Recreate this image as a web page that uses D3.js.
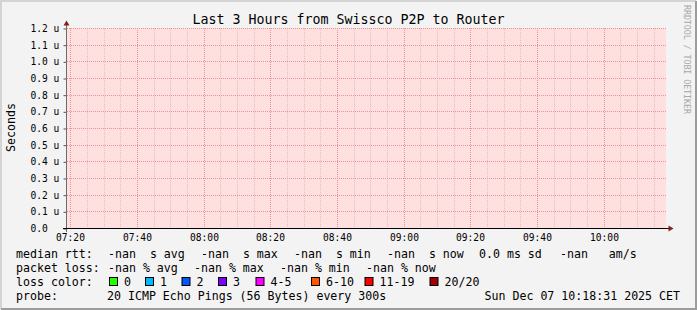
<!DOCTYPE html>
<html>
<head>
<meta charset="utf-8">
<script src="https://cdn.jsdelivr.net/npm/d3@7"></script>
<style>
  html, body { margin: 0; padding: 0; background: #f3f3f3; }
  svg { display: block; font-family: "DejaVu Sans Mono", monospace; }
</style>
</head>
<body>
<div id="graph"></div>
<script>
//----------------------------------------------------------
// chart data
var g_title = "Last 3 Hours from Swissco P2P to Router";
var g_y_label = "Seconds";
var g_watermark = "RRDTOOL / TOBI OETIKER";
var g_time_start = new Date(2025, 11, 7, 7, 18, 53);
var g_time_end = new Date(2025, 11, 7, 10, 18, 53);
var g_y_domain = [0, 1.2e-6];

var g_rtt_names = ["avg", "max", "min", "now"];
var g_rtt_values = ["-nan", "-nan", "-nan", "-nan"];
var g_rtt_sd = "0.0";
var g_rtt_am = "-nan";
var g_loss_names = ["avg", "max", "min", "now"];
var g_loss_values = ["-nan", "-nan", "-nan", "-nan"];
var g_loss_labels = ["0", "1", "2", "3", "4-5", "6-10", "11-19", "20/20"];
var g_loss_colours = ["#26ff00", "#00b8ff", "#0059ff", "#7e00ff", "#ff00ff", "#ff5500", "#ff0000", "#a10000"];
var g_probe = "20 ICMP Echo Pings (56 Bytes) every 300s";
var g_stamp = "Sun Dec 07 10:18:31 2025 CET";

// legend layout
var g_rtt_x = [108, 201, 294, 387];
var g_loss_x = [108, 194, 280, 366];
var g_swatch_x = [109.5, 145.5, 182, 218.5, 256, 311.5, 365, 430];


//----------------------------------------------------------
const width = 697, height = 310;
const plot = { left: 67, right: 667, top: 28, bottom: 228 };

var g_svg = d3.select("#graph")
  .append("svg")
    .attr("width", width)
    .attr("height", height);

// frame
g_svg.append("rect")
    .attr("width", width).attr("height", height)
    .attr("fill", "#f3f3f3");
g_svg.append("path")
    .attr("d", "M1,309V1H696")
    .attr("fill", "none").attr("stroke", "#d4d4d4").attr("stroke-width", 2);
g_svg.append("path")
    .attr("d", "M1,309H696V1")
    .attr("fill", "none").attr("stroke", "#9c9c9c").attr("stroke-width", 2);

const x = d3.scaleTime()
    .domain([g_time_start, g_time_end])
    .range([plot.left, plot.right]);

const y = d3.scaleLinear()
    .domain(g_y_domain)
    .range([plot.bottom, plot.top]);

function Px(v) { return Math.floor(v) + 0.5; }
function Py(v) { return Math.round(v) + 0.5; }

// keep runs of spaces in svg text
function Keep(s) { return s.replace(/ /g, "\u00a0"); }

// canvas
g_svg.append("rect")
    .attr("x", plot.left).attr("y", plot.top)
    .attr("width", plot.right - plot.left - 1)
    .attr("height", plot.bottom - plot.top)
    .attr("fill", "#ffe0e0");

var grid = g_svg.append("g");

// minor vertical grid, every 5 min
grid.selectAll("line.minor")
  .data(x.ticks(d3.timeMinute.every(5)).filter(function (t) { return t.getMinutes() % 20 != 0; }))
  .join("line")
    .attr("class", "minor")
    .attr("x1", function (d) { return Px(x(d)); })
    .attr("x2", function (d) { return Px(x(d)); })
    .attr("y1", plot.top).attr("y2", plot.bottom)
    .attr("stroke", "#e6bcbc")
    .attr("stroke-dasharray", "1,1");

// major vertical grid, every 20 min
var x_ticks = x.ticks(d3.timeMinute.every(20));
grid.selectAll("line.major")
  .data(x_ticks)
  .join("line")
    .attr("class", "major")
    .attr("x1", function (d) { return Px(x(d)); })
    .attr("x2", function (d) { return Px(x(d)); })
    .attr("y1", plot.top).attr("y2", plot.bottom)
    .attr("stroke", "#f29090")
    .attr("stroke-dasharray", "1,1");

// horizontal grid
var y_ticks = y.ticks(12);
grid.selectAll("line.hgrid")
  .data(y_ticks.filter(function (d) { return d > 0; }))
  .join("line")
    .attr("class", "hgrid")
    .attr("x1", plot.left).attr("x2", plot.right)
    .attr("y1", function (d) { return Py(y(d)); })
    .attr("y2", function (d) { return Py(y(d)); })
    .attr("stroke", "#f29090")
    .attr("stroke-dasharray", "1,1");

// y axis
var y_axis = g_svg.append("g")
    .attr("transform", "translate(" + (plot.left - 0.5) + ",0.5)")
    .call(d3.axisLeft(y)
        .ticks(12)
        .tickSize(3)
        .tickFormat(function (d) {
            return d == 0 ? "0.0" : d3.format(".1f")(d * 1e6) + " u";
        }));
y_axis.select(".domain").remove();
y_axis.selectAll(".tick line").attr("stroke", "#555");
y_axis.selectAll(".tick text")
    .attr("text-anchor", "start")
    .attr("x", -36)
    .attr("font-family", "DejaVu Sans Mono")
    .attr("font-size", "9.6px")
    .attr("fill", "#000");

// x axis labels
g_svg.append("g")
  .selectAll("text")
  .data(x_ticks)
  .join("text")
    .attr("x", function (d) { return Px(x(d)); })
    .attr("y", 241)
    .attr("text-anchor", "middle")
    .attr("font-size", "9.6px")
    .text(d3.timeFormat("%H:%M"));

// axis lines and arrows
g_svg.append("line")
    .attr("x1", 66.5).attr("x2", 66.5).attr("y1", 25).attr("y2", 232)
    .attr("stroke", "#6a6a6a");
g_svg.append("line")
    .attr("x1", 63).attr("x2", 669).attr("y1", 228.5).attr("y2", 228.5)
    .attr("stroke", "#000");
g_svg.append("path")
    .attr("d", "M63.5,25.5L66.5,20.5L69.5,25.5Z")
    .attr("fill", "#8b1c1c");
g_svg.append("path")
    .attr("d", "M668.5,225.5L673.5,228.5L668.5,231.5Z")
    .attr("fill", "#8b1c1c");

// title
g_svg.append("text")
    .attr("x", width / 2).attr("y", 24)
    .attr("text-anchor", "middle")
    .attr("font-size", "13.3px")
    .text(g_title);

g_svg.append("text")
    .attr("transform", "translate(15,127.5) rotate(-90)")
    .attr("text-anchor", "middle")
    .attr("font-size", "11.6px")
    .text(g_y_label);

g_svg.append("text")
    .attr("transform", "translate(684,5) rotate(90)")
    .attr("font-size", "8.4px")
    .attr("textLength", 109)
    .attr("lengthAdjust", "spacing")
    .attr("fill", "#a8a8a8")
    .text(g_watermark);

//----------------------------------------------------------
// legend
var legend = g_svg.append("g")
    .attr("font-size", "11.6px")
    .attr("fill", "#000");

function LegendText(tx, ty, s) {
    legend.append("text").attr("x", tx).attr("y", ty).text(Keep(s));
}

LegendText(16, 258, "median rtt:");
g_rtt_values.forEach(function (v, i) {
    LegendText(g_rtt_x[i], 258, v + "  s " + g_rtt_names[i]);
});
LegendText(479, 258, g_rtt_sd + " ms sd");
LegendText(560, 258, g_rtt_am + "   am/s");

LegendText(16, 272, "packet loss:");
g_loss_values.forEach(function (v, i) {
    LegendText(g_loss_x[i], 272, v + " % " + g_loss_names[i]);
});

LegendText(16, 286, "loss color:");
g_loss_labels.forEach(function (lbl, i) {
    legend.append("rect")
        .attr("x", g_swatch_x[i]).attr("y", 277.5)
        .attr("width", 8).attr("height", 8)
        .attr("fill", g_loss_colours[i])
        .attr("stroke", "#000");
    LegendText(g_swatch_x[i] + 14.5, 286, lbl);
});

LegendText(16, 300, "probe:");
LegendText(107, 300, g_probe);
legend.append("text")
    .attr("x", 680).attr("y", 300)
    .attr("text-anchor", "end")
    .text(Keep(g_stamp));
</script>
</body>
</html>
